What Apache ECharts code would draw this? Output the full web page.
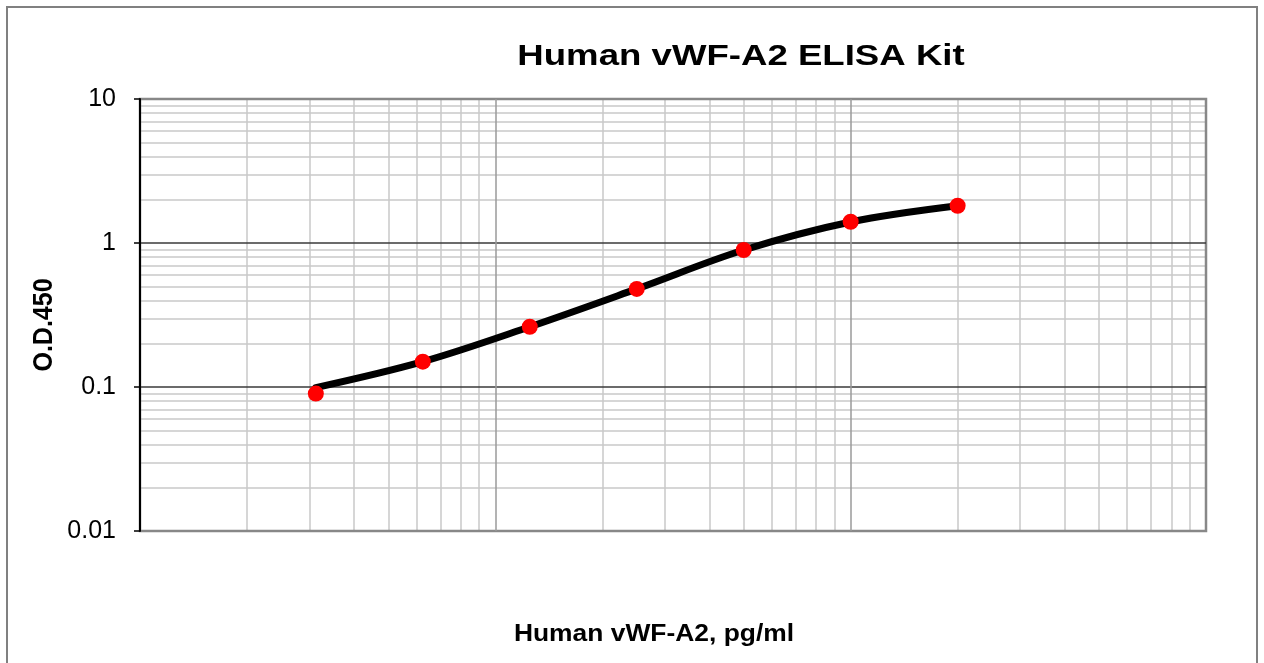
<!DOCTYPE html>
<html>
<head>
<meta charset="utf-8">
<style>
  html, body { margin: 0; padding: 0; background: #fff; }
  #chart { width: 1264px; height: 663px; }
</style>
<script src="https://cdn.jsdelivr.net/npm/echarts@6/dist/echarts.min.js"></script>
</head>
<body>
<div id="chart"></div>
<script>
// ---- data ----
const concentrations = [31.25, 62.5, 125, 250, 500, 1000, 2000];   // pg/ml
const odValues      = [0.090, 0.150, 0.262, 0.480, 0.894, 1.405, 1.814];
const fitCurve      = [0.099, 0.150, 0.262, 0.480, 0.894, 1.400, 1.814];
const yTickLabels   = ['0.01', '0.1', '1', '10'];
const xMinorTicks = [20, 30, 40, 50, 60, 70, 80, 90,
                     200, 300, 400, 500, 600, 700, 800, 900,
                     2000, 3000, 4000, 5000, 6000, 7000, 8000, 9000];
const yMinorTicks = [0.02, 0.03, 0.04, 0.05, 0.06, 0.07, 0.08, 0.09,
                     0.2, 0.3, 0.4, 0.5, 0.6, 0.7, 0.8, 0.9,
                     2, 3, 4, 5, 6, 7, 8, 9];
const titleText = 'Human vWF-A2 ELISA Kit';
const xName = 'Human vWF-A2, pg/ml';
const yName = 'O.D.450';

const FONT = "'Liberation Sans', Arial, Helvetica, sans-serif";
const chart = echarts.init(document.getElementById('chart'), null, { renderer: 'canvas' });

const minorLines = [];
xMinorTicks.forEach(v => minorLines.push({ xAxis: v }));
yMinorTicks.forEach(v => minorLines.push({ yAxis: v }));

chart.setOption({
  animation: false,
  backgroundColor: '#ffffff',
  grid: {
    left: 140, top: 99, width: 1066, height: 432,
    show: true, borderColor: '#888888', borderWidth: 2.5,
    backgroundColor: 'transparent', containLabel: false
  },
  xAxis: {
    type: 'log', logBase: 10, min: 10, max: 10000,
    axisLine: { show: false },
    axisTick: { show: false },
    axisLabel: { show: false },
    splitLine: { show: true, showMinLine: false, showMaxLine: false,
                 lineStyle: { color: '#9a9a9a', width: 1.5 } }
  },
  yAxis: {
    type: 'log', logBase: 10, min: 0.01, max: 10,
    axisLine: { show: true, onZero: false, lineStyle: { color: '#000', width: 2 } },
    axisTick: { show: true, length: 6, inside: false, lineStyle: { color: '#000', width: 1.5 } },
    axisLabel: {
      show: true, margin: 24, color: '#000', fontSize: 25, fontFamily: FONT,
      formatter: function (v) {
        const idx = Math.round(Math.log10(v)) + 2;
        return yTickLabels[idx] !== undefined ? yTickLabels[idx] : '';
      }
    },
    splitLine: { show: true, showMinLine: false, showMaxLine: false,
                 lineStyle: { color: '#3a3a3a', width: 1.5 } }
  },
  graphic: [
    { type: 'rect', silent: true, z: 100,
      shape: { x: 7, y: 7, width: 1250, height: 670 },
      style: { fill: 'none', stroke: '#808080', lineWidth: 2 } },
    { type: 'text', silent: true, x: 741, y: 57, scaleX: 1.22, z: 100,
      style: { text: titleText, fill: '#000', font: 'bold 30px ' + FONT,
               textAlign: 'center', textVerticalAlign: 'middle' } },
    { type: 'text', silent: true, x: 654, y: 634, scaleX: 1.1, z: 100,
      style: { text: xName, fill: '#000', font: 'bold 24px ' + FONT,
               textAlign: 'center', textVerticalAlign: 'middle' } },
    { type: 'text', silent: true, x: 44, y: 325, rotation: Math.PI / 2, scaleY: 1.12, z: 100,
      style: { text: yName, fill: '#000', font: 'bold 25px ' + FONT,
               textAlign: 'center', textVerticalAlign: 'middle' } }
  ],
  series: [
    {
      name: 'minor grid', type: 'line', data: [], z: -1, silent: true,
      markLine: {
        z: -1,
        silent: true, symbol: ['none', 'none'], animation: false,
        label: { show: false },
        lineStyle: { color: '#c8c8c8', width: 1.5, type: 'solid' },
        emphasis: { disabled: true },
        data: minorLines
      }
    },
    {
      name: 'fit', type: 'line', smooth: 0.35, showSymbol: false, symbol: 'none',
      z: 8, silent: true,
      lineStyle: { color: '#000', width: 7, cap: 'round' },
      data: concentrations.map((c, i) => [c, fitCurve[i]])
    },
    {
      name: 'standards', type: 'scatter', symbol: 'circle', symbolSize: 16, z: 9,
      itemStyle: { color: '#ff0000', opacity: 1 },
      emphasis: { disabled: true },
      data: concentrations.map((c, i) => [c, odValues[i]])
    }
  ]
});
</script>
</body>
</html>
